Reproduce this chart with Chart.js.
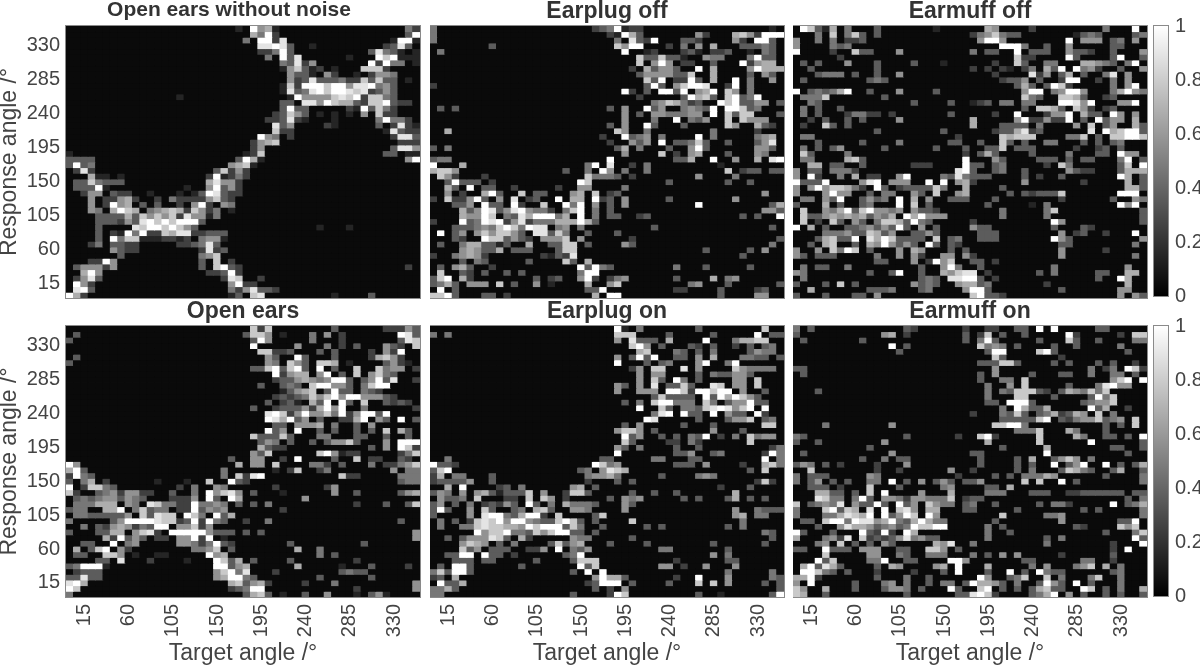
<!DOCTYPE html>
<html>
<head>
<meta charset="utf-8">
<title>Response angle vs target angle</title>
<script src="https://cdn.jsdelivr.net/npm/chart.js@4.4.0/dist/chart.umd.min.js"></script>
<style>
  html, body { margin: 0; padding: 0; background: #fff; overflow: hidden; }
  canvas { position: absolute; }
</style>
</head>
<body>
<script>
// bins of the two axes, degrees
const angles = [0,7.5,15,22.5,30,37.5,45,52.5,60,67.5,75,82.5,90,97.5,105,112.5,120,127.5,135,142.5,150,157.5,165,172.5,180,187.5,195,202.5,210,217.5,225,232.5,240,247.5,255,262.5,270,277.5,285,292.5,300,307.5,315,322.5,330,337.5,345,352.5];
const tickAngles = [15,60,105,150,195,240,285,330];
const colorbarTicks = [0,0.2,0.4,0.6,0.8,1];
const colorbarRange = [0,1];

// each row goes top to bottom (352.5 down to 0), "column:level" with level 1-9 = value level/9, the rest is 0
const openNoNoise = [
"23:1 25:9 26:5 27:6 28:1 46:4 47:2",
"25:6 26:4 27:9 28:2 46:3 47:9",
"24:4 26:9 27:9 28:2 29:8 44:1 45:9 46:9 47:1",
"26:8 27:8 28:9 29:8 30:3 33:1 43:2 44:3 45:8 46:3",
"26:2 27:2 28:4 29:9 30:3 41:3 42:8 43:4 44:3 45:1 47:1",
"27:4 29:9 30:3 31:8 38:1 42:9 43:7 44:9 45:1 46:1 47:1",
"29:4 30:3 31:8 32:2 33:5 41:9 42:2 43:9 44:4 45:4 47:1",
"29:1 30:5 31:7 32:3 33:1 34:2 36:1 40:7 41:7 42:7 43:2",
"30:5 31:3 32:3 33:1 35:5 36:2 39:1 41:2 42:5 43:5 44:4",
"30:5 31:2 32:3 33:8 34:3 35:3 36:3 37:4 38:2 39:2 40:7 41:3 42:7 43:3 44:3 46:1",
"29:1 30:7 31:2 32:9 33:9 34:9 35:7 36:9 37:9 38:5 39:8 40:8 41:9 42:4 43:5 44:3",
"29:1 30:8 31:3 32:4 33:8 34:9 35:7 36:9 37:9 38:8 39:7 40:8 41:2 42:3 43:5 44:3",
"15:1 30:1 31:9 32:5 33:5 34:5 35:5 36:7 37:8 38:7 39:9 40:2 41:7 42:7 43:4 44:3",
"29:3 30:3 32:8 33:8 34:5 35:9 36:7 37:6 38:6 39:3 40:2 41:7 42:7 43:9 44:3 45:2 46:2",
"29:3 30:9 31:3 32:3 38:2 39:1 40:9 41:3 42:7 43:4 44:2",
"28:2 29:3 30:7 31:5 32:3 34:1 36:1 38:1 40:5 42:7 43:2 44:2",
"27:2 28:2 29:3 30:8 31:2 32:1 36:1 42:4 43:9 44:4 45:4 46:2",
"28:8 29:3 30:5 35:2 36:1 42:3 44:2 45:8 46:2 47:1",
"28:7 29:2 30:2 43:1 44:8 45:3 46:2 47:2",
"26:9 27:5 28:4 30:2 44:2 45:8 46:8 47:3",
"25:2 26:5 27:6 28:7 45:2 46:2 47:2",
"25:2 26:5 44:3 45:8 46:8 47:5",
"0:1 24:1 25:2 26:7 43:3 44:3 46:1 47:1",
"0:3 1:3 2:3 3:3 23:3 24:9 25:6 26:1 46:5 47:9",
"0:3 1:9 2:3 3:4 22:5 23:6 24:7 25:1",
"1:2 2:8 3:2 20:3 21:7 22:2 23:5 24:2",
"3:6 4:1 5:1 7:1 19:2 20:9 21:1 22:2 23:4 24:2",
"1:3 2:3 3:7 4:4 5:3 6:3 7:3 19:6 20:8 21:5 22:5 23:2",
"1:3 2:3 3:3 4:9 5:1 16:1 19:5 20:9 21:3 22:5 23:2",
"2:2 3:5 4:5 6:3 7:2 8:2 11:1 15:1 17:1 18:3 19:9 20:8 21:3 22:2 23:2",
"3:5 5:2 6:2 7:5 8:6 9:2 12:2 14:4 15:2 16:2 17:2 18:2 19:5 20:7 21:3 22:2",
"3:5 5:2 6:9 7:5 8:6 10:3 12:3 15:2 17:5 18:9 19:2 21:5 22:4",
"3:5 4:4 6:6 7:9 8:7 9:6 11:4 12:5 13:6 14:7 15:6 16:2 17:7 18:5 19:2 20:4 22:1",
"4:3 5:3 6:3 7:3 8:6 9:3 10:7 11:5 12:7 13:5 14:7 15:2 16:8 17:5 18:5 19:1 20:4",
"4:3 5:3 6:3 7:2 8:5 9:3 10:8 11:9 12:7 13:9 14:7 15:9 16:9 17:9 18:3",
"4:3 9:8 10:7 11:9 12:9 13:7 14:9 15:7 16:5 17:3 34:1 38:1",
"4:3 6:2 7:1 8:9 9:4 10:9 11:2 12:2 13:7 14:6 15:8 16:8 17:2 18:2 19:3 20:3 21:3",
"4:3 6:9 7:4 8:7 9:7 10:1 11:1 12:1 13:2 14:2 15:1 16:2 18:4 19:5 20:5 21:1",
"3:2 4:4 6:3 7:3 8:2 9:2 15:2 16:2 17:3 18:4 19:8 20:3",
"6:5 7:3 8:2 9:2 18:2 19:8 20:2 21:3",
"7:3 18:4 19:5 20:7",
"3:2 4:2 5:9 6:5 18:3 20:7 22:2",
"1:3 2:5 3:5 4:5 5:2 6:5 18:3 20:7 21:9 22:3 23:2 46:2",
"2:6 3:9 4:5 19:2 20:2 21:3 22:9 23:2",
"1:2 2:5 3:8 4:3 21:2 22:8 23:7 26:2",
"1:9 2:5 3:2 22:5 23:9 24:2 25:2",
"1:8 2:9 3:3 22:4 23:2 24:5 25:8 26:3 27:3 28:2",
"0:9 1:6 2:2 22:1 23:3 25:7 26:8 36:1 41:3"
];
const earplugOff = [
"0:4 22:2 23:3 24:4 25:9 26:1 27:2 28:2 46:1",
"0:4 24:2 25:1 26:9 27:6 28:3 36:5 37:2 41:6 42:7 43:5 44:2 45:9 46:9 47:9",
"0:4 25:4 27:8 28:3 29:2 30:9 34:3 35:3 36:2 41:5 42:2 44:9 45:9 46:3",
"8:3 25:7 26:5 27:9 28:9 32:2 34:4 36:5 38:6 42:3 43:3 44:3 45:4 46:3",
"1:4 26:9 29:1 30:2 34:2 35:3 36:1 38:2 39:2 40:3 43:1 45:4 46:3",
"28:7 29:3 30:3 31:7 32:3 33:3 34:1 37:5 38:4 39:4 43:4 44:9 45:3 46:3",
"28:7 30:5 31:9 32:5 34:2 35:2 38:3 42:9 43:2 44:5 45:6 46:6",
"27:2 29:6 30:3 31:5 32:5 33:3 36:9 38:6 43:5 44:9 45:6 46:6 47:6",
"28:3 29:5 30:5 31:5 32:5 33:3 34:3 35:7 38:6 43:3 45:5 46:3",
"29:7 30:3 31:9 33:2 34:2 35:9 36:3 38:6 41:9 43:4 46:5",
"0:2 29:3 30:9 31:3 33:5 34:7 35:9 36:9 37:8 40:2 41:9 43:4",
"26:9 27:2 29:3 31:9 32:9 33:3 34:9 36:5 37:6 38:9 40:7 41:5 43:4",
"28:2 34:3 35:9 36:6 37:7 38:3 40:7 41:9 42:3 43:4 44:9",
"30:4 31:5 32:7 33:6 34:4 35:2 36:3 39:9 40:7 41:9 42:3 43:3 44:5 45:5 47:3",
"1:3 3:3 24:3 26:5 29:9 30:3 31:5 34:4 35:5 36:4 37:3 38:9 40:9 41:9 42:7 43:3 44:4",
"26:5 28:3 30:5 31:5 32:4 33:4 34:4 35:5 36:5 38:9 40:7 41:3 42:7 43:7 47:3",
"26:5 30:4 33:9 35:4 36:3 37:5 40:7 42:7 43:5 44:5 45:5",
"24:3 26:5 29:9 30:3 34:3 40:7 41:5 44:6 45:3 46:2",
"2:6 25:7 26:5 29:4 38:4 44:2",
"23:2 26:9 27:3 28:4 29:5 31:4 36:9 38:4 44:4 45:5 46:6",
"24:2 27:5 28:3 29:5 31:9 33:3 34:3 35:4 36:7 37:3 40:3 44:3 45:5 46:8",
"0:3 2:4 25:3 26:6 28:4 32:3 35:5 36:9 37:3 44:5 45:5 46:3",
"26:5 31:7 33:2 35:5 36:6 40:3 44:5 45:4",
"0:3 1:4 2:4 24:9 33:3 34:3 35:6 38:9 41:5 44:6 46:8 47:9",
"0:9 4:6 21:4 22:9 24:8 27:2 29:4 39:1",
"0:6 1:7 2:7 3:5 18:3 21:4 23:9 24:5 26:4 29:4 40:7 42:2 43:3 44:3 46:3 47:3",
"1:7 2:5 3:2 7:2 21:7 22:4 23:4 24:4 25:3 27:2 36:5 41:4",
"2:3 3:9 4:3 5:3 6:3 8:2 20:9 21:7 32:3 40:3 43:3",
"2:6 3:3 5:9 7:3 8:3 11:2 17:2 20:5 21:5 26:4",
"2:5 4:2 7:6 8:9 9:3 12:7 14:3 15:3 19:5 20:6 22:7 24:2 25:3 45:5",
"0:2 2:7 3:2 4:2 5:5 6:9 7:3 9:5 11:8 13:2 14:3 17:9 19:6 20:6 22:9 23:2 24:3 26:5 32:3 41:5",
"3:3 4:3 5:5 7:9 8:3 9:3 11:9 12:2 15:7 18:9 19:4 20:9 22:5 24:3 26:5 36:9 46:3 47:6",
"4:6 5:3 6:5 7:9 8:8 9:3 10:5 11:8 12:9 13:5 14:4 15:4 16:2 18:4 19:7 20:9 22:4 24:3 45:5 46:5 47:3",
"4:6 5:5 6:5 7:9 8:7 10:4 11:3 12:8 13:6 14:9 15:9 16:9 17:4 18:6 20:9 22:4 24:3 25:3 28:2 29:3 42:3 44:3 47:9",
"0:2 4:9 5:3 6:4 7:9 8:8 9:9 10:2 11:5 12:8 13:2 14:4 15:4 16:4 17:6 18:6 19:6 20:9 21:6 22:3",
"3:3 4:3 5:3 6:4 7:5 8:4 9:7 10:9 11:7 12:4 13:9 14:8 15:8 17:4 18:5 20:4 30:3 46:3",
"1:9 3:3 4:5 6:5 7:7 8:5 9:7 10:7 11:5 12:3 14:8 15:8 16:3 17:7 18:4 21:3 25:3",
"3:3 4:2 7:9 8:7 9:7 10:3 11:5 12:3 13:2 15:5 16:5 17:5 18:7 20:5 27:2 47:3",
"1:3 4:4 5:6 6:6 7:3 8:3 9:1 10:3 13:6 16:3 17:3 18:7 19:7 21:3 26:5 27:3 46:4",
"4:5 5:6 6:5 7:3 8:3 9:6 11:3 12:3 13:3 17:3 18:7 19:7 37:3 43:3 45:5",
"0:2 3:4 4:5 5:6 6:5 7:2 15:2 16:1 17:3 18:2 19:8 42:3",
"4:3 6:4 7:3 13:3 18:7 19:3 21:6",
"1:3 3:5 4:6 5:3 8:2 20:9 21:3 22:9 23:4 24:3 33:4 37:3 43:3",
"1:7 4:3 5:2 7:3 10:3 12:3 20:4 21:9 22:9",
"0:3 1:7 2:9 4:6 5:2 14:3 16:2 17:3 20:5 21:9 22:2 24:2 25:4 26:5 33:3 38:6 40:4 41:5",
"0:3 1:4 2:6 3:3 5:5 6:5 7:5 9:7 11:3 14:5 16:1 21:6 24:5 25:7 35:4 36:5 40:3 47:3",
"1:9 3:3 21:3 22:3 23:9 33:2 34:2 39:3 44:2 45:3",
"0:7 1:7 2:9 3:3 7:3 8:3 10:2 22:6 24:9 25:9 39:3 44:5 45:5"
];
const earmuffOff = [
"1:9 2:7 3:3 4:1 5:6 7:4 11:3 19:1 26:6 27:5 32:2 42:4 46:9",
"3:4 5:7 7:4 8:7 9:3 11:3 24:2 25:4 26:5 27:7 28:4 29:3 30:3 38:1 39:3 40:4 41:3 46:3 47:4",
"0:5 3:4 5:4 7:2 8:2 9:3 25:5 26:9 27:9 28:5 37:9 39:5 40:5 41:5 43:3 44:4 46:5",
"0:5 5:4 6:3 7:4 28:9 29:9 30:9 31:4 34:3 37:5 43:3 44:3",
"0:9 5:2 8:7 9:3 10:3 14:5 24:4 26:3 27:3 30:9 32:3 33:3 34:3 37:5 38:3 39:3 40:2 43:3 47:5",
"6:2 30:7 31:2 32:2 37:9 38:3 43:3 44:9 47:3",
"1:3 3:3 7:5 11:3 16:3 20:1 27:2 30:7 31:3 34:4 35:4 39:6 40:6 41:5 42:4 43:3 45:4 46:9",
"2:3 11:3 24:2 26:2 28:2 29:1 31:2 32:4 34:6 35:3 36:9 38:9 39:4 40:5 41:2 44:3 47:5",
"3:3 4:4 5:4 6:4 8:3 11:3 14:5 27:2 32:8 33:2 34:5 36:3 37:6 39:3 42:4 43:8 45:5",
"1:3 10:3 11:4 12:3 28:2 29:3 30:3 31:5 33:3 36:2 37:9 38:9 41:2 43:4 45:5",
"30:3 31:6 32:3 34:3 35:9 36:7 37:2 43:4 45:5 46:9",
"0:9 2:3 3:4 4:3 5:4 6:6 7:9 10:3 14:5 19:3 31:5 32:9 33:9 35:4 36:5 37:9 38:9 39:5 43:4 44:6 45:9 46:5 47:4",
"1:4 2:4 3:4 4:7 12:3 31:7 32:4 33:3 36:7 37:7 38:6 39:3 42:2 43:3",
"2:4 3:3 16:3 21:3 24:1 25:2 26:3 28:4 29:4 31:4 32:4 36:9 37:9 38:8 39:5 40:9 44:5 45:5 46:9",
"1:4 3:3 6:3 31:3 33:7 34:7 35:6 36:3 38:7 39:5 40:2 42:2 43:3",
"1:4 3:3 7:2 8:4 9:4 10:2 11:2 13:2 21:3 27:2 30:9 34:2 35:5 36:5 37:9 39:6 40:3 41:3 43:9 44:5 46:5",
"2:2 4:3 7:3 9:3 14:5 24:6 30:5 31:9 32:2 33:2 34:5 35:2 36:2 37:9 39:3 41:9 42:3 43:5 44:5 46:6",
"1:2 4:7 5:3 7:3 24:6 28:3 29:3 30:3 31:3 33:4 38:5 40:7 42:3 43:5 46:6 47:3",
"11:3 20:3 27:2 28:3 29:3 30:6 31:8 32:2 33:3 40:8 42:9 43:6 44:7 45:9 46:9 47:3",
"1:4 2:4 22:2 28:7 29:6 30:7 31:7 32:7 37:4 38:4 39:7 41:3 43:7 44:7 45:9 46:9 47:7",
"3:3 9:3 14:4 21:3 22:3 25:3 28:7 29:3 31:3 34:4 35:4 39:3 41:3 43:3 44:4",
"1:4 3:3 5:3 6:5 12:3 19:3 23:3 26:3 27:3 28:7 30:3 31:3 32:3 38:2 41:2 42:3 44:3",
"1:7 2:3 7:4 23:2 25:3 26:6 27:3 32:3 37:4 41:3 42:3 44:9 45:5 46:5",
"1:4 2:4 7:6 8:7 9:3 23:9 27:5 28:3 33:3 34:3 35:3 37:3 39:3 40:3 44:4 45:9 47:3",
"2:6 3:6 5:3 6:3 9:3 16:2 17:2 18:2 23:9 24:3 25:3 27:3 28:4 34:2 36:7 37:4 44:3 45:7 47:9",
"0:5 2:3 3:3 5:4 6:4 7:4 8:2 22:8 23:9 24:3 27:3 28:4 31:3 37:5 38:3 39:2 40:2 44:3 45:6 46:6 47:6",
"0:5 2:9 3:2 6:4 8:6 10:2 11:2 14:5 15:9 20:4 21:3 22:8 23:4 24:3 25:3 26:3 31:3 33:2 36:3 44:9 45:6 47:3",
"0:9 1:3 2:3 3:3 4:9 9:5 10:8 11:9 13:5 14:5 15:5 18:9 20:9 22:5 23:6 24:2 31:5 39:2 45:6 47:3",
"0:5 2:5 3:9 4:5 5:7 6:7 7:6 8:4 9:2 11:9 12:3 14:2 15:3 16:3 17:3 18:3 19:7 20:4 23:6 28:3 45:6 46:6 47:3",
"0:5 4:5 5:9 6:5 7:5 10:3 12:4 13:4 16:5 17:3 19:7 22:5 23:6 29:3 31:3 32:2 33:3 34:3 35:3 36:7 44:9 45:9 46:9",
"1:4 2:4 4:5 5:3 6:9 9:3 10:5 11:3 12:4 14:9 16:6 18:5 21:3 22:3 23:3 27:3 36:2 43:3 46:5 47:4",
"0:3 4:6 6:3 9:3 10:4 14:9 16:7 18:3 26:3 32:1 34:4 44:9 45:5 46:9",
"1:7 4:5 5:4 6:6 7:9 8:3 9:7 10:9 11:5 12:5 13:4 14:5 16:5 17:3 18:3 19:2 28:4 34:4 35:7 47:3",
"1:7 2:3 3:3 4:5 5:6 6:5 7:6 8:5 9:6 10:3 11:5 12:4 13:6 15:9 16:6 17:9 18:5 19:5 20:5 28:4 34:4 47:3",
"1:7 3:2 5:7 6:3 8:5 9:3 11:4 12:7 13:7 14:6 15:3 16:9 17:4 18:3 24:2 35:9 36:5 47:3",
"0:9 2:6 4:3 7:3 8:3 9:4 10:5 11:3 12:5 13:3 14:9 15:3 17:5 19:3 24:5 25:3 26:3 35:3 39:3 40:2",
"4:4 5:4 6:4 7:5 8:3 9:3 10:7 11:6 12:3 13:5 16:3 17:3 18:5 19:3 25:3 26:3 27:3 36:5 38:2 39:3 42:2 46:9",
"3:3 4:6 5:7 6:3 7:3 8:9 10:8 11:6 12:9 13:7 14:3 15:3 16:3 17:3 19:7 21:3 22:4 25:3 26:3 27:3 35:9 36:5 37:3 47:5",
"2:3 4:6 5:7 8:3 10:6 11:5 12:9 13:5 14:3 15:5 16:3 18:9 19:3 21:3 22:2 36:3 37:3 46:4",
"0:5 3:5 5:7 6:4 7:9 8:7 10:3 14:5 16:6 17:5 21:3 23:3 36:5 42:2",
"0:5 1:3 3:3 4:3 5:3 11:4 14:5 16:5 17:2 20:5 21:5 23:5 24:2 36:5 46:4",
"11:3 12:3 16:5 18:2 19:9 20:5 21:7 24:3 25:3 27:2",
"1:4 3:3 4:3 7:4 17:3 20:5 21:9 22:4 25:3 35:4 45:5",
"0:5 1:4 10:3 13:3 14:9 17:3 20:6 21:5 22:7 23:8 24:8 26:2 33:3 35:4 41:3 42:3 45:6 46:6",
"1:4 17:3 18:4 19:3 21:8 22:8 23:9 24:9 25:3 27:2 41:3 44:9 45:6",
"0:3 4:3 6:7 8:3 16:5 17:3 18:4 19:3 22:5 23:6 24:6 25:3 26:4 34:2 45:6",
"2:6 10:3 11:3 12:3 13:4 17:3 18:4 23:5 24:9 25:9 26:3 36:3 44:5 45:5",
"0:3 4:3 8:3 9:3 11:5 24:7 25:9 26:3 27:3 28:2 44:5 46:5 47:3"
];
const openEars = [
"25:7 26:2 27:7 36:3 43:2 44:2 45:2 46:5 47:3",
"1:3 24:3 25:7 26:7 27:5 29:1 33:4 35:5 37:2 45:9 46:8 47:3",
"0:3 25:3 26:9 27:5 33:4 37:2 45:3 46:8 47:7",
"25:9 31:5 35:4 37:2 39:3 43:5 44:3 45:2 47:7",
"26:7 27:7 28:2 29:2 30:3 34:3 36:3 41:2 43:5 44:2 45:9",
"1:3 27:5 28:3 31:9 32:3 36:3 41:2 42:6 43:7 44:5 45:2",
"0:3 27:5 28:4 30:7 31:5 32:3 34:7 35:7 36:6 38:1 43:3 44:5 45:2 46:1",
"25:3 26:3 27:7 28:9 29:3 30:7 31:9 32:3 34:9 36:3 39:7 42:7 43:4 44:5 45:5 47:2",
"28:9 29:2 30:5 31:6 32:6 34:5 35:9 37:3 39:7 41:5 42:7 43:4 44:3",
"28:2 29:3 30:3 31:5 32:6 33:5 34:4 35:5 36:9 37:9 38:3 40:3 41:5 42:9 43:3 44:8 47:2",
"26:3 29:3 30:4 31:3 33:7 34:9 35:9 36:5 37:5 38:3 40:4 41:7 42:9 43:9",
"29:1 30:3 31:5 32:6 33:7 35:3 36:9 37:3 38:3 40:4 41:3 42:2",
"28:2 29:3 30:2 31:3 32:4 33:7 34:5 35:7 36:9 37:5 38:9 39:9 40:5 41:5 42:5 43:3 44:2",
"27:3 29:2 30:3 31:1 33:6 34:3 35:9 37:9 38:3 40:7 43:3 44:2 45:3 46:2",
"25:3 28:2 29:3 30:3 31:3 32:5 33:2 34:6 35:9 36:5 37:9 40:4 47:2",
"27:8 28:9 29:7 30:2 31:5 32:9 33:5 34:5 35:7 36:4 37:9 38:2 39:5 40:9 41:9 42:3 43:9",
"27:9 28:8 29:6 30:9 31:3 32:5 34:3 37:2 38:2 39:6 40:9 42:5 43:3 45:9 47:3",
"28:3 29:3 31:5 32:5 33:5 34:6 36:4 39:3 41:5",
"27:9 28:3 29:5 31:9 34:3 36:3 39:3 41:3 43:7 45:6 46:3",
"25:7 26:3 27:3 28:3 29:7 30:3 34:4 35:4 39:3 40:3 43:3 46:3",
"26:3 27:5 28:4 30:3 33:3 35:3 36:5 37:5 38:7 39:3 43:5 45:9 46:9 47:9",
"26:6 27:3 28:2 29:2 41:3 43:5 45:9 46:7 47:2",
"25:5 26:3 27:7 34:7 35:9 36:5 37:1 38:2 39:2 45:2 46:4 47:7",
"22:3 25:5 26:5 29:2 31:9 36:3 39:7 41:2 42:2 45:3 46:2",
"0:9 1:5 23:6 25:5 26:5 28:7 33:4 34:4 35:2 37:3 41:4 43:2 44:2 45:4 46:5 47:7",
"0:6 1:9 2:3 21:4 28:1 30:2 31:7 34:2 35:4 44:5 46:4 47:4",
"0:2 1:9 2:4 3:3 21:4 23:7 24:2 25:8 26:9 37:7 38:2 39:2 45:4 46:4 47:4",
"0:3 2:4 3:6 5:2 12:1 16:1 19:7 22:9 23:3 24:2 45:3 46:4 47:4",
"0:9 2:2 3:7 4:7 5:4 6:3 15:2 17:4 20:5 21:4 28:2 35:2 36:5",
"0:7 1:2 4:3 5:4 6:5 7:2 8:5 9:5 10:2 11:2 14:3 17:4 19:9 20:5 21:7 22:8 23:5 25:3 29:1 36:5 39:3 45:3 46:5 47:6",
"1:3 2:4 3:3 4:4 5:5 6:5 7:3 8:5 9:4 10:3 14:2 15:2 16:2 17:5 19:9 20:3 22:9 23:6 32:5",
"1:4 2:4 3:4 4:6 5:6 6:6 8:5 9:4 11:8 12:7 13:4 14:4 15:2 16:2 17:9 18:4 19:4 20:5 21:4 23:3 25:3 27:4 39:2 43:3 46:3 47:7",
"0:3 1:4 2:4 5:6 6:6 7:9 9:4 10:7 11:3 12:4 13:4 15:2 16:2 17:9 18:3 19:5 20:4 21:5 29:2",
"1:4 2:4 3:3 4:3 5:3 6:3 7:3 8:5 10:7 11:3 12:8 13:7 14:7 16:9 17:7 18:4 20:9 21:3 22:6",
"0:4 6:3 7:5 8:9 9:9 10:9 11:9 12:8 13:7 14:7 15:2 16:3 17:9 18:2 19:9 20:4 21:3 24:2 27:4 45:3",
"2:4 4:3 5:2 6:5 7:6 8:5 9:2 10:4 11:3 12:9 13:9 15:5 16:5 17:7 18:2 19:5",
"0:3 4:3 5:3 6:6 7:6 9:5 10:7 11:8 12:2 14:9 15:9 16:9 17:9 18:9 19:5 20:3 21:3 22:3 24:3 26:3 47:5",
"5:6 6:2 7:9 8:3 9:5 10:3 12:2 13:2 15:5 16:5 17:9 18:2 19:9 21:1 47:5",
"2:3 3:3 6:9 8:4 9:5 15:5 16:5 17:4 18:2 19:4 20:9 21:3 22:2 30:3 40:3",
"1:6 3:3 4:7 5:9 7:5 8:2 17:4 18:4 19:5 20:7 22:3 31:6 34:4",
"1:3 2:3 5:7 6:7 7:5 9:1 12:1 13:1 19:9 20:5 21:6 34:4 36:3",
"4:3 5:3 7:8 11:2 16:1 20:9 21:7 22:3 23:6 25:3 30:3 39:2",
"0:3 1:4 2:9 3:9 4:9 5:1 20:9 21:9 22:3 23:5 24:6 31:6 37:1 41:3 46:2",
"1:2 2:3 3:3 4:3 20:5 21:7 22:9 23:4 24:8 28:2 37:3 38:4 39:3 40:3",
"0:3 1:3 2:8 3:3 4:3 20:5 21:6 22:9 23:9 24:4 25:3 34:3 41:3",
"0:8 1:9 2:6 22:6 23:7 24:3 25:5 26:6 27:2 32:2 36:4 47:5",
"0:9 1:7 22:2 23:3 24:4 25:9 26:9 39:2 47:5",
"0:4 24:3 25:6 26:7 27:3 29:1 32:3 35:5 39:1 41:3 42:5 43:1"
];
const earplugOn = [
"25:9 26:1 28:4 36:3 45:7",
"0:4 2:4 25:7 26:7 27:7 32:3 38:3 44:9 46:3 47:3",
"25:5 27:8 28:3 29:3 30:3 32:6 37:9 41:4 42:6 43:6 44:7 45:7",
"27:7 28:9 29:5 31:3 35:3 36:2 38:3 41:2 43:3 45:3 46:4",
"28:6 29:7 33:4 34:3 36:3 38:4 43:3 44:5 45:4 46:4",
"25:5 27:3 28:9 29:3 30:9 33:3 34:3 36:5 38:6 42:4 43:4 44:3 45:3 47:3",
"25:9 29:3 31:3 32:4 36:5 37:9 40:4 41:9",
"27:2 28:5 30:7 31:7 34:8 36:5 41:7 42:5 43:4 44:4 45:4 46:4",
"28:5 30:5 31:5 36:3 38:4 39:3 40:3 41:5 42:5 43:3",
"28:5 30:7 31:3 33:9 34:4 36:3 41:5 42:5 44:7",
"25:5 26:3 28:5 30:8 32:3 33:3 34:7 35:3 38:8 39:7 41:5 42:5 44:7",
"25:5 28:5 29:5 30:5 32:9 33:9 34:7 35:2 36:9 37:9 38:7 39:9 40:9 42:5 45:3",
"30:3 31:7 32:3 33:3 34:3 35:3 37:9 38:3 39:9 40:6 41:9 42:7 43:5 44:3",
"26:3 28:4 30:7 31:9 32:9 33:4 34:4 35:4 37:7 38:4 40:3 41:5 42:5 43:9 44:3 45:3",
"28:9 31:7 32:3 34:4 35:4 36:3 37:7 38:8 39:9 40:8 41:5 42:7 43:9 45:9",
"30:4 31:8 32:9 34:9 35:3 36:3 38:9 40:5 41:3 42:3 44:9 45:2",
"29:9 30:8 36:3 40:3 41:5 42:5 43:7 45:3 46:4",
"26:3 28:5 34:3 38:3 45:7 46:7",
"25:5 26:7 27:7 28:5 30:3 38:5 42:3",
"26:9 27:3 28:5 31:3 33:3 35:4 36:3 37:9 39:2 41:4 43:7 44:4 45:5 46:5",
"26:7 27:3 32:2 33:2 35:4 36:2 43:7",
"25:5 26:3 28:4 33:3 36:3 46:2 47:4",
"25:9 33:3 34:3 35:5 38:3 39:4 45:2 46:9 47:4",
"2:4 23:3 24:3 30:4 31:4 35:3 36:3 45:9 47:4",
"0:9 1:3 2:3 3:2 22:9 23:7 24:4 25:5 33:3 34:3 35:3 37:5 42:2 45:6 46:7 47:4",
"0:3 1:7 2:9 20:3 21:4 23:5 24:8 25:7 26:6 43:3 45:7",
"0:2 1:6 3:4 4:4 8:3 21:4 22:5 23:5 24:6 25:4 31:3 36:4 37:5 38:4",
"0:2 1:3 2:3 3:3 4:3 5:5 8:3 21:2 25:3 27:3 44:2 45:7 46:2",
"2:6 4:9 9:2 10:3 12:4 19:5 20:6 22:3 39:2 43:3",
"0:3 1:5 2:4 4:5 6:5 7:6 8:3 9:1 10:3 11:3 12:3 13:7 15:5 18:2 19:7 20:7 21:3 27:3 30:3 33:3 41:6",
"1:5 2:3 3:3 4:4 6:7 10:2 11:2 13:7 15:7 16:5 18:2 24:3 26:5 27:4 28:5 34:3 36:3 40:3 41:6 43:3 45:3",
"0:3 1:5 3:3 5:4 7:2 8:3 9:2 10:5 11:3 13:9 14:3 16:4 18:6 19:4 20:4 21:4 22:3 26:5 27:3",
"0:3 1:9 2:3 5:5 7:7 8:3 11:3 12:4 14:6 15:7 16:3 19:5 20:5 21:4 26:5 41:5 44:4 45:3 46:3 47:3",
"0:3 5:5 7:8 8:9 9:9 10:4 11:3 12:6 13:9 14:9 15:2 17:7 22:3 23:7 41:5 42:6 44:4 45:4",
"1:4 3:3 5:2 6:7 7:8 8:7 9:9 10:5 11:9 12:9 13:5 14:4 15:3 16:3 17:7 18:9 19:7 20:3 22:3 27:7 42:4",
"1:4 4:4 5:4 6:7 7:8 8:7 9:7 10:6 11:6 12:5 13:9 14:7 15:9 16:9 17:9 18:3 19:7 20:4 23:3 29:3 31:3 40:3 42:4",
"6:9 7:5 8:7 9:7 10:9 11:4 12:4 13:3 14:7 15:5 16:7 17:9 18:9 19:3 20:3 22:3 45:4 46:3",
"2:3 4:3 5:5 6:5 7:5 8:8 9:7 10:3 12:6 13:2 19:5 20:4 21:4 27:3 46:3",
"4:5 5:7 6:6 7:5 9:3 11:4 16:3 17:7 18:3 19:5 20:6 24:3 29:3 38:3 45:3",
"4:7 5:3 6:5 8:3 9:3 10:3 13:2 14:2 15:5 17:9 19:4 20:3 21:5 31:4 32:4 40:3",
"2:3 3:3 4:9 5:9 7:9 8:3 9:3 11:2 18:3 19:4 20:9 38:5 40:4",
"3:3 4:3 5:3 7:3 8:3 14:3 19:3 20:7 21:7 22:7 33:2 40:3 41:3",
"1:3 3:9 4:9 5:3 12:3 20:9 21:3 22:7 31:5 32:5 34:2 37:5 41:5",
"0:4 1:7 2:3 3:9 4:9 5:3 19:3 21:9 23:9 40:4 46:4",
"0:2 1:3 3:6 22:5 23:9 24:6 25:6 26:3 33:2 36:9 40:5 46:4 47:3",
"1:9 2:3 3:3 4:6 21:2 22:3 23:9 24:9 25:9 27:3 32:3 36:7 38:7 40:5 45:3 47:3",
"0:4 1:4 2:6 3:3 22:3 24:2 26:5 47:3",
"0:4 1:4 19:3 24:2 25:9 26:7 36:3 39:1 46:3 47:9"
];
const earmuffOn = [
"0:4 2:3 15:3 16:2 23:2 26:2 27:2 30:3 31:3 33:9 35:9 41:3 42:3",
"0:3 12:5 13:6 15:2 23:3 25:2 26:7 28:3 31:3 37:9 38:2 44:2 46:7 47:7",
"1:3 9:3 23:3 25:4 26:9 27:3 33:3 37:7 38:3 41:3 46:4 47:4",
"13:9 15:3 25:7 26:4 27:5 28:4 30:3 35:3 38:3 44:4",
"14:3 26:3 27:9 28:9 33:7 34:9 35:3 45:3",
"27:7 28:3 36:2",
"25:3 26:3 27:3 28:7 29:7 30:3 35:3 37:3 41:3 43:3 46:2",
"0:3 1:3 27:5 40:4 42:2 43:4 45:9 46:7 47:2",
"1:3 25:3 27:5 32:3 36:3 37:3 40:4 43:4 44:4 46:3",
"25:3 28:4 29:4 31:7 43:5 44:7 45:9 47:9",
"26:4 29:5 31:7 37:3 41:4 42:8 43:9 44:5 45:5",
"3:3 26:4 28:4 29:3 30:7 31:7 32:7 33:3 34:2 36:3 37:6 38:5 39:4 40:7 41:4 42:7",
"26:4 30:7 31:7 35:3 40:3 41:9 42:4 43:7",
"26:3 27:3 29:9 30:9 31:9 32:3 39:3 40:4 41:5 42:5 43:7",
"28:4 30:9 31:6 32:3 33:3 34:6 40:9 41:3 42:6 45:2",
"24:2 28:4 29:3 30:7 31:3 33:3 34:4 35:6 36:2 37:3 38:6 39:5 41:7 43:4",
"28:3 29:3 30:3 31:3 32:3 33:7 34:9 36:3 37:2 38:4 39:5 40:5 41:7 42:3 43:4 44:5 46:7",
"4:4 13:5 27:7 28:7 29:9 30:9 31:4 42:3 44:3 46:7",
"30:4 31:4 32:4 33:7 37:6 38:4 42:3",
"0:4 1:3 15:3 22:2 25:7 26:9 27:2 33:7 38:6 39:4 42:3 43:3 45:3 47:9",
"0:3 3:3 12:5 26:6 33:7 40:9 47:3",
"10:3 28:3 34:6 43:3 44:3 47:3",
"1:3 13:5 24:3 25:3 34:9 45:3",
"9:3 12:4 14:3 15:3 25:3 30:3 32:6 35:3 36:5 37:7 38:5 40:4",
"0:3 1:5 2:4 4:3 6:2 11:2 15:5 25:3 30:3 32:3 35:9 37:3 38:5 39:9 42:9 44:3 46:3 47:6",
"2:7 11:2 14:2 21:5 24:2 30:3 32:4 36:3 37:7 38:6 39:4 40:3 43:3 44:6 47:3",
"0:4 2:3 3:3 4:3 10:5 11:4 22:2 27:3 29:3 31:4 32:4 33:4 34:6 35:5 42:3 47:4",
"0:4 2:3 3:5 5:3 7:3 10:4 11:4 13:9 15:3 17:5 19:3 20:5 21:3 23:3 24:3 25:5 31:7 33:7 36:9 38:3 47:4",
"2:3 3:3 4:3 6:2 10:7 14:3 20:4 21:5 26:3 27:3 29:6",
"3:6 4:6 5:3 6:3 8:3 10:7 12:9 17:5 21:6 26:4 27:4 28:4 32:3 33:3 34:3 37:2 38:2 39:3 40:3 41:3 42:3 43:3 44:3 46:3 47:3",
"3:8 4:7 5:4 6:4 8:4 9:9 10:3 12:5 13:5 14:4 15:2 16:5 17:5 18:4 19:4 20:4 21:7 23:2 24:3 25:3 45:3 47:4",
"0:7 2:3 3:4 4:5 5:4 6:8 8:5 9:3 10:3 11:9 12:3 14:9 15:3 16:5 18:7 19:5 20:4 21:4 23:3 24:4 27:3 33:3 35:4 36:4 37:2 43:9 45:3 46:4 47:6",
"0:4 4:7 5:9 6:3 7:7 8:6 10:8 12:9 14:7 15:8 16:5 18:6 19:6 23:3 24:3 30:3 39:3 41:3 47:4",
"0:4 4:4 5:4 6:6 7:8 8:7 9:6 10:9 12:9 13:3 14:5 15:9 16:7 18:9 19:5 28:7 34:4 35:4 36:5 47:4",
"1:3 2:3 4:7 5:9 6:9 7:4 8:9 9:8 10:8 11:5 12:6 13:9 14:4 15:3 16:6 17:9 18:6 19:4 20:4 27:3 36:5 44:3 45:3 46:9",
"3:3 6:5 7:8 8:6 9:6 10:5 11:3 12:4 13:5 14:3 15:4 16:9 17:7 18:7 19:9 20:9 26:4 28:3 38:3 39:2 44:7 45:5 46:7",
"0:9 1:3 5:3 9:9 10:3 11:2 12:9 13:2 15:9 16:6 26:4 29:3 42:3 46:4 47:7",
"0:6 4:4 5:5 6:2 7:8 9:7 10:2 11:3 12:2 13:3 14:5 15:8 16:4 17:5 18:3 19:3 26:4 34:3 36:4 46:9 47:3",
"3:4 4:5 6:7 8:3 10:3 12:5 13:3 19:6 20:5 21:8 24:4 34:4 43:2 47:9",
"0:3 1:3 4:9 5:3 6:3 7:3 9:5 10:5 11:5 14:3 15:3 18:7 19:7 20:5 22:3 43:2 45:9",
"4:7 10:5 11:5 14:4 15:3 18:4 19:4 20:4 24:4 26:3 28:5 30:5 36:2 43:3",
"3:9 4:3 5:7 10:4 11:4 12:9 15:3 16:3 21:9 22:9 23:5 31:3 32:3 39:4 40:4 43:2",
"1:6 2:9 3:3 4:8 5:6 6:3 11:3 13:6 14:5 19:5 20:6 22:9 26:6 32:4 34:5 38:4 39:5 40:7 42:6 44:4",
"1:9 2:9 3:7 4:4 5:3 7:3 11:2 16:2 20:3 22:9 26:3 29:9 31:3 33:9 34:4 35:3 36:3 43:3 44:4",
"0:6 1:6 2:9 3:2 11:3 15:4 18:3 25:9 26:5 29:3 30:4 31:7 34:7 36:4 40:4 41:7 44:4",
"0:5 2:9 8:3 12:4 13:5 15:4 18:3 20:4 21:4 23:3 24:9 25:6 26:6 27:5 28:3 30:4 33:3 34:9 35:5 36:3 38:9 40:3 44:4",
"0:7 1:5 4:6 8:3 12:3 13:5 14:5 15:4 17:3 21:9 22:3 25:7 26:9 28:3 30:3 32:3 33:6 34:7 35:3 36:3 39:9 40:7 42:3 44:4 47:6",
"0:7 1:6 4:3 15:3 22:3 23:3 24:8 25:9 26:7 27:2 32:3 33:4 34:6 35:9 37:5 39:3 42:3 44:3 47:3"
];

const textColor = '#444';
const fontName = '"Liberation Sans", Arial, sans-serif';
const binSize = 7.5;

// 0 -> almost black like the picture, 1 -> white
function grayOf(v) {
    const c = Math.round(10 + v * 245);
    return 'rgb(' + c + ',' + c + ',' + c + ')';
}

// "25:9 26:5" -> 48 values
function parseRow(row) {
    const values = angles.map(() => 0);
    row.split(' ').forEach((cell) => {
        if (cell === '') return;
        const parts = cell.split(':');
        values[parseInt(parts[0])] = parseInt(parts[1]) / 9;
    });
    return values;
}

function addCanvas(left, top, width, height) {
    const canvas = document.createElement('canvas');
    canvas.width = width;
    canvas.height = height;
    canvas.style.left = left + 'px';
    canvas.style.top = top + 'px';
    canvas.style.width = width + 'px';
    canvas.style.height = height + 'px';
    document.body.appendChild(canvas);
    return canvas.getContext('2d');
}

// thin grey box around the plot
const framePlugin = {
    id: 'frame',
    afterDraw(chart) {
        const a = chart.chartArea;
        const ctx = chart.ctx;
        ctx.save();
        ctx.strokeStyle = '#8a8a8a';
        ctx.lineWidth = 1;
        ctx.strokeRect(Math.round(a.left) - 0.5, Math.round(a.top) - 0.5, Math.round(a.right - a.left) + 1, Math.round(a.bottom - a.top) + 1);
        ctx.restore();
    }
};

function drawPanel(p) {
    const rowAngles = angles.slice().reverse();
    const datasets = p.rows.map((row, i) => {
        const mid = rowAngles[i];
        const values = parseRow(row);
        return {
            data: values.map(() => [mid - binSize / 2, mid + binSize / 2]),
            backgroundColor: values.map(grayOf),
            borderWidth: 0,
            barPercentage: 1,
            categoryPercentage: 1,
            inflateAmount: 0.4
        };
    });

    const titleShift = {
        id: 'titleShift',
        afterLayout(chart) {
            chart.titleBlock.left += p.titleShift * 2;
        }
    };

    return new Chart(addCanvas(p.left, p.top, p.width, p.height), {
        type: 'bar',
        data: { labels: angles, datasets: datasets },
        plugins: [framePlugin, titleShift],
        options: {
            responsive: false,
            animation: false,
            layout: { padding: { top: 0, left: 0, right: 1, bottom: p.xAxis ? 0 : 1 } },
            plugins: {
                legend: { display: false },
                tooltip: { enabled: false },
                title: {
                    display: true,
                    text: p.title,
                    fullSize: false,
                    color: '#333',
                    font: { family: fontName, size: p.titleSize, weight: 'bold', lineHeight: 1 },
                    padding: { top: 0, bottom: 26 - p.titleSize }
                }
            },
            scales: {
                x: {
                    display: p.xAxis,
                    stacked: true,
                    grid: { display: false, drawTicks: false },
                    border: { display: false },
                    afterBuildTicks(scale) {
                        scale.ticks = tickAngles.map((a) => ({ value: angles.indexOf(a) }));
                    },
                    afterFit(scale) {
                        // the last rotated label must not shrink the plot
                        scale.height = p.xAxis ? 72 : 0;
                        scale.paddingLeft = 0;
                        scale.paddingRight = 0;
                    },
                    ticks: {
                        autoSkip: false,
                        minRotation: 90,
                        maxRotation: 90,
                        padding: 7,
                        color: textColor,
                        font: { family: fontName, size: 20 }
                    },
                    title: {
                        display: true,
                        text: 'Target angle /°',
                        color: textColor,
                        font: { family: fontName, size: 23, lineHeight: 1.2 },
                        padding: { top: 0, bottom: 2 }
                    }
                },
                y: {
                    display: p.yAxis,
                    type: 'linear',
                    min: -binSize / 2,
                    max: 360 - binSize / 2,
                    grid: { display: false, drawTicks: false },
                    border: { display: false },
                    afterBuildTicks(scale) {
                        scale.ticks = tickAngles.map((a) => ({ value: a }));
                    },
                    afterFit(scale) {
                        scale.width = p.yAxis ? 66 : 0;
                        scale.paddingTop = 0;
                        scale.paddingBottom = 0;
                    },
                    ticks: {
                        padding: 6,
                        color: textColor,
                        font: { family: fontName, size: 20 }
                    },
                    title: {
                        display: true,
                        text: 'Response angle /°',
                        color: textColor,
                        font: { family: fontName, size: 23, lineHeight: 0.8 },
                        padding: 0
                    }
                }
            }
        }
    });
}

function drawColorbar(top, height, padTop, padBottom) {
    return new Chart(addCanvas(1150, top, 50, height), {
        type: 'bar',
        data: {
            labels: [''],
            datasets: [{
                data: [colorbarRange],
                barPercentage: 1,
                categoryPercentage: 1,
                backgroundColor(c) {
                    const a = c.chart.chartArea;
                    if (!a) return '#000';
                    const g = c.chart.ctx.createLinearGradient(0, a.bottom, 0, a.top);
                    g.addColorStop(0, '#000');
                    g.addColorStop(1, '#fff');
                    return g;
                }
            }]
        },
        plugins: [framePlugin],
        options: {
            responsive: false,
            animation: false,
            layout: { padding: { top: padTop, bottom: padBottom, left: 4, right: 0 } },
            plugins: { legend: { display: false }, tooltip: { enabled: false } },
            scales: {
                x: { display: false },
                y: {
                    position: 'right',
                    min: 0,
                    max: 1,
                    grid: { display: false, drawTicks: false },
                    border: { display: false },
                    afterBuildTicks(scale) {
                        scale.ticks = colorbarTicks.map((v) => ({ value: v }));
                    },
                    afterFit(scale) {
                        scale.width = 32;
                    },
                    ticks: {
                        padding: 7,
                        color: textColor,
                        font: { family: fontName, size: 20 },
                        callback: (v) => String(v)
                    }
                }
            }
        }
    });
}

// top row
drawPanel({ rows: openNoNoise, title: 'Open ears without noise', left: 0, top: 0, width: 421, height: 299, xAxis: false, yAxis: true, titleShift: -14, titleSize: 21 });
drawPanel({ rows: earplugOff, title: 'Earplug off', left: 430, top: 0, width: 355, height: 299, xAxis: false, yAxis: false, titleShift: 0, titleSize: 23 });
drawPanel({ rows: earmuffOff, title: 'Earmuff off', left: 793, top: 0, width: 355, height: 299, xAxis: false, yAxis: false, titleShift: 0, titleSize: 23 });
// bottom row
drawPanel({ rows: openEars, title: 'Open ears', left: 0, top: 300, width: 421, height: 369, xAxis: true, yAxis: true, titleShift: 0, titleSize: 23 });
drawPanel({ rows: earplugOn, title: 'Earplug on', left: 430, top: 300, width: 355, height: 369, xAxis: true, yAxis: false, titleShift: 0, titleSize: 23 });
drawPanel({ rows: earmuffOn, title: 'Earmuff on', left: 793, top: 300, width: 355, height: 369, xAxis: true, yAxis: false, titleShift: 0, titleSize: 23 });

drawColorbar(5, 310, 21, 17);
drawColorbar(305, 310, 21, 18);
</script>
</body>
</html>
